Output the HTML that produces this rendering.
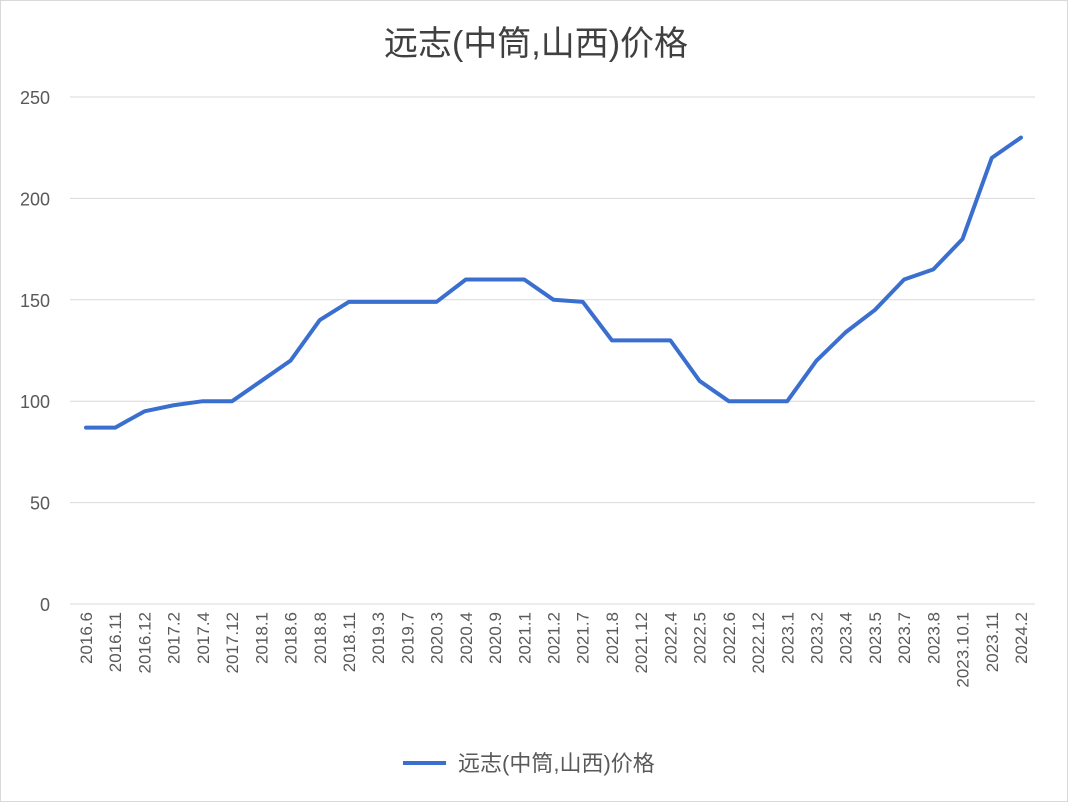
<!DOCTYPE html>
<html><head><meta charset="utf-8"><style>
html,body{margin:0;padding:0;background:#fff;}
svg text{font-family:"Liberation Sans","Noto Sans CJK SC",sans-serif;}
</style></head><body>
<svg width="1068" height="802" viewBox="0 0 1068 802">
<rect x="0.5" y="0.5" width="1067" height="801" fill="#fff" stroke="#d9d9d9"/>
<text x="536" y="55" text-anchor="middle" font-size="34" fill="#404040">远志(中筒,山西)价格</text>
<g id="grid"></g><g id="ylab"></g><g id="xlab"></g>
<path id="line" fill="none" stroke="#3a6fd0" stroke-width="4" stroke-linejoin="round" stroke-linecap="round"/>
<g>
<line x1="403" y1="763" x2="446" y2="763" stroke="#3a6fd0" stroke-width="4"/>
<text x="458" y="771" font-size="22" fill="#595959">远志(中筒,山西)价格</text>
</g>
</svg>
<script>
const categories=["2016.6","2016.11","2016.12","2017.2","2017.4","2017.12","2018.1","2018.6","2018.8","2018.11","2019.3","2019.7","2020.3","2020.4","2020.9","2021.1","2021.2","2021.7","2021.8","2021.12","2022.4","2022.5","2022.6","2022.12","2023.1","2023.2","2023.4","2023.5","2023.7","2023.8","2023.10.1","2023.11","2024.2"];
const values=[87,87,95,98,100,100,110,120,140,149,149,149,149,160,160,160,150,149,130,130,130,110,100,100,100,120,134,145,160,165,180,220,230];
const yTicks=[0,50,100,150,200,250];
const NS="http://www.w3.org/2000/svg";
const x0=86,x1=1021,yBase=604,yTop=97,yMax=250;
function xs(i){return x0+(x1-x0)*i/(categories.length-1);}
function ys(v){return yBase-(yBase-yTop)*v/yMax;}
const grid=document.getElementById('grid'),yl=document.getElementById('ylab'),xl=document.getElementById('xlab');
yTicks.forEach(t=>{
 const l=document.createElementNS(NS,'line');
 l.setAttribute('x1',70);l.setAttribute('x2',1035);l.setAttribute('y1',ys(t));l.setAttribute('y2',ys(t));
 l.setAttribute('stroke','#d9d9d9');l.setAttribute('stroke-width',1);
 
 
 grid.appendChild(l);
 const tx=document.createElementNS(NS,'text');
 tx.setAttribute('x',50);tx.setAttribute('y',ys(t)+7);tx.setAttribute('text-anchor','end');
 tx.setAttribute('font-size',18);tx.setAttribute('fill','#595959');tx.textContent=t;
 
 
 yl.appendChild(tx);
});
categories.forEach((c,i)=>{
 const tx=document.createElementNS(NS,'text');
 const x=xs(i)+6,y=612;
 tx.setAttribute('x',x);tx.setAttribute('y',y);tx.setAttribute('text-anchor','end');
 tx.setAttribute('transform','rotate(-90 '+x+' '+y+')');
 tx.setAttribute('font-size',17);tx.setAttribute('fill','#595959');tx.textContent=c;
 
 
 xl.appendChild(tx);
});
document.getElementById('line').setAttribute('d',values.map((v,i)=>(i?'L':'M')+xs(i)+' '+ys(v)).join(' '));
</script>
</body></html>
